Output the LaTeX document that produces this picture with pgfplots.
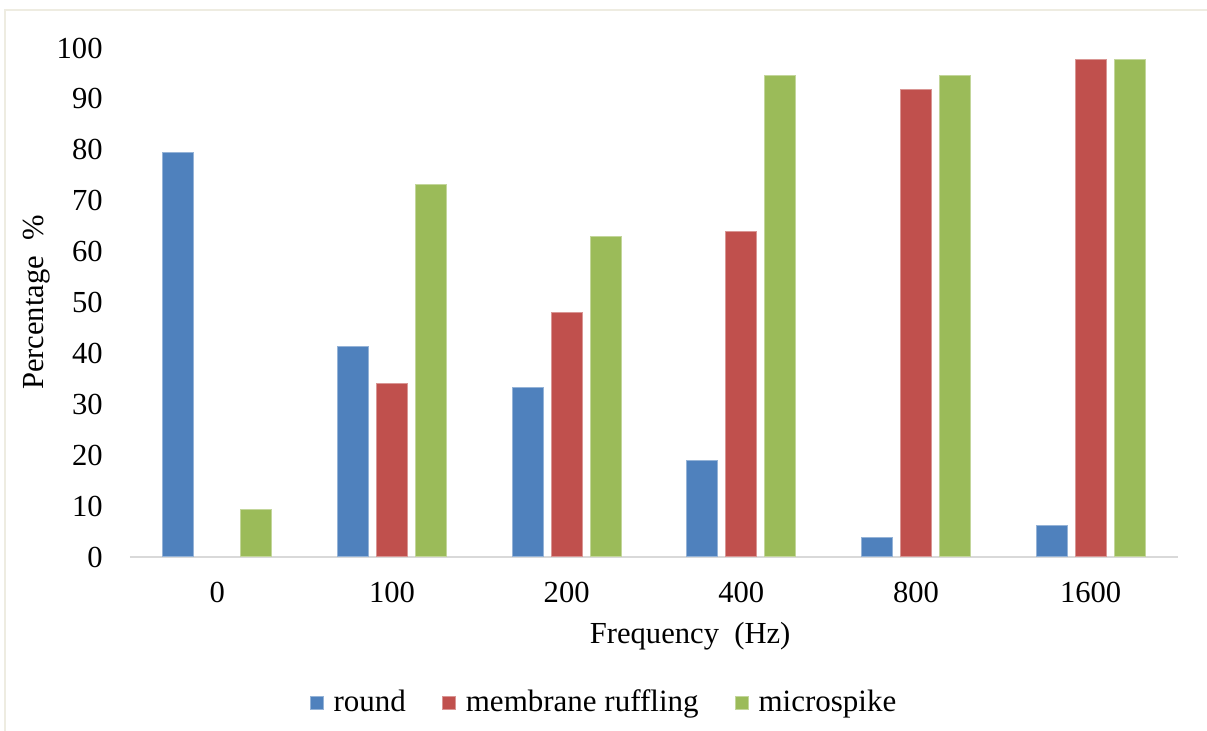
\documentclass[border=0pt]{standalone}
\usepackage{pgfplots}
\pgfplotsset{compat=1.18}
\usepackage{fontspec}
\setmainfont{Liberation Serif}
\definecolor{cround}{HTML}{4F81BD}
\definecolor{cmemb}{HTML}{C0504D}
\definecolor{cmicro}{HTML}{9BBB59}
\definecolor{frame}{HTML}{EEECE1}
\begin{document}
\fontsize{15}{18}\selectfont
\begin{tikzpicture}
\path[use as bounding box] (-65pt,-87pt) rectangle (538.5pt,278.5pt);
\draw[frame, line width=0.8pt] (-62.5pt,-95pt) rectangle (545pt,273.5pt);
\begin{axis}[
  at={(0,0)}, anchor=south west,
  scale only axis,
  width=524pt, height=254.5pt,
  ybar, bar width=15.5pt,
  xmin=-0.5, xmax=5.5, ymin=0, ymax=100,
  xtick={0,1,2,3,4,5},
  xticklabels={0,100,200,400,800,1600},
  ytick={0,10,...,100},
  major tick length=0pt,
  axis y line*=left, y axis line style={draw=none},
  axis x line*=bottom, x axis line style={draw=black!15, line width=0.8pt},
  separate axis lines,
  tick label style={font=\fontsize{15.3}{18}\selectfont},
  /pgf/number format/assume math mode=true,
  yticklabel style={xshift=-8.5pt},
  xticklabel style={yshift=-7.5pt},
  xlabel={Frequency\hspace{0.5em}(Hz)},
  ylabel={Percentage\hspace{0.5em}\%},
  label style={font=\fontsize{15.3}{18}\selectfont},
  xlabel style={at={(axis description cs:0.5345,0)}, anchor=center, yshift=-39.5pt},
  ylabel style={at={(axis description cs:0,0.5)}, anchor=center, rotate=0, yshift=46.5pt},
  legend style={at={(axis description cs:0.4532,-0.287)}, anchor=center, draw=none,
    legend columns=-1, font=\fontsize{15.5}{18}\selectfont,
    /tikz/every odd column/.append style={column sep=3pt},
    /tikz/every even column/.append style={column sep=16pt}},
  legend image code/.code={\fill[#1] (0pt,-3pt) rectangle (6.5pt,3.5pt);},
  clip=false,
]
\addplot[bar shift=-19.5pt, fill=cround, draw=cround!60!white, line width=0.5pt]
  coordinates {(0,79.4) (1,41.3) (2,33.2) (3,18.9) (4,3.9) (5,6.1)};
\addplot[bar shift=0pt, fill=cmemb, draw=cmemb!60!white, line width=0.5pt]
  coordinates {(1,34.0) (2,48.1) (3,63.9) (4,91.9) (5,97.8)};
\addplot[bar shift=19.5pt, fill=cmicro, draw=cmicro!60!white, line width=0.5pt]
  coordinates {(0,9.4) (1,73.1) (2,62.9) (3,94.5) (4,94.5) (5,97.8)};
\legend{round,membrane ruffling,microspike}
\end{axis}
\end{tikzpicture}
\end{document}
